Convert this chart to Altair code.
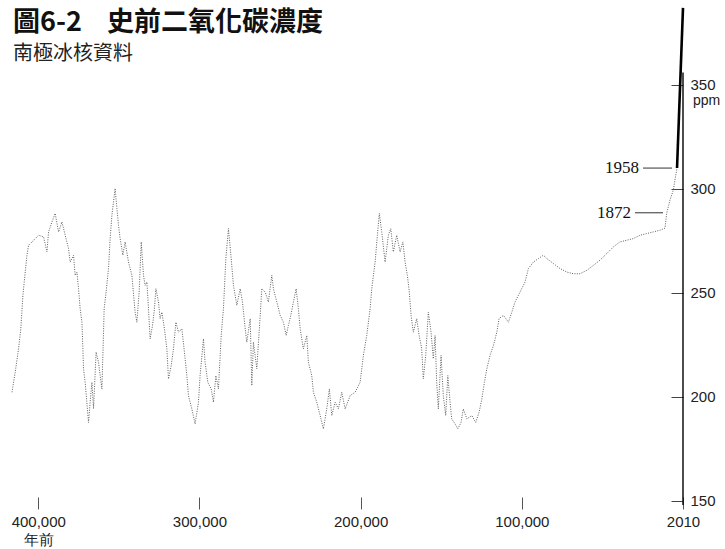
import altair as alt
import pandas as pd

# ---------------- text ----------------
title_main = "圖6-2"
title_rest = "史前二氧化碳濃度"
subtitle = "南極冰核資料"

# ---------------- data (thousand years before 2010, ppm) ----------------
ice_kya = [
    416.3, 414.3, 412.2, 410.8, 409.5, 408.7, 407.0, 406.0, 402.9, 399.8,
    396.7, 394.6, 393.6, 391.5, 389.5, 387.4, 385.3, 383.3, 381.2, 380.2,
    378.1, 377.1, 376.0, 375.0, 374.0, 372.9, 372.3, 371.9, 370.9, 369.5,
    368.8, 367.8, 366.7, 365.7, 364.1, 362.6, 361.6, 360.5, 359.9, 359.1,
    357.9, 356.4, 355.4, 354.3, 352.3, 351.2, 350.2, 349.2, 347.5, 346.1,
    344.0, 341.9, 339.9, 338.8, 337.4, 336.1, 334.7, 333.7, 332.6, 331.6,
    330.6, 329.1, 327.9, 327.0, 325.4, 324.4, 323.3, 321.7, 320.2, 319.2,
    317.5, 316.1, 314.6, 313.0, 310.9, 309.3, 307.8, 306.8, 304.7, 302.7,
    300.6, 299.6, 297.5, 296.5, 294.8, 292.7, 291.3, 289.8, 288.2, 286.5,
    285.1, 283.6, 282.0, 280.3, 278.9, 276.8, 274.7, 273.3, 271.6, 270.6,
    268.5, 267.5, 266.5, 264.4, 262.3, 261.3, 259.2, 257.2, 255.1, 254.1,
    252.0, 249.9, 247.9, 246.2, 244.8, 243.3, 241.7, 240.0, 238.6, 237.5,
    235.5, 233.4, 232.4, 230.3, 229.3, 227.2, 225.1, 223.1, 221.0, 219.4,
    217.9, 215.8, 213.8, 211.7, 209.6, 206.5, 203.4, 200.3, 198.3, 196.2,
    194.1, 193.1, 191.0, 189.6, 188.4, 186.9, 184.8, 182.8, 181.3, 179.7,
    177.6, 175.5, 173.8, 172.4, 171.0, 169.9, 168.7, 167.3, 165.2, 163.7,
    162.1, 161.1, 159.6, 158.0, 156.3, 154.9, 153.8, 152.8, 151.8, 150.1,
    148.7, 147.2, 145.9, 144.5, 143.5, 141.4, 139.7, 137.7, 136.3, 134.1,
    131.0, 128.6, 126.5, 124.8, 123.2, 121.7, 119.7, 117.6, 115.5, 114.1,
    111.4, 108.3, 106.2, 104.2, 101.1, 98.0, 95.9, 92.8, 89.7, 86.6,
    84.5, 80.4, 76.3, 72.1, 68.0, 63.9, 59.7, 55.6, 51.5, 47.3,
    43.2, 39.1, 34.9, 30.8, 26.7, 22.5, 18.4, 14.3, 11.2, 10.1,
    8.1, 6.0, 5.0, 3.7,
]
ice_ppm = [
    202.2, 211.8, 223.2, 232.9, 248.8, 255.2, 268.1, 272.9, 275.3, 277.7,
    276.9, 269.7, 279.3, 284.1, 288.2, 279.3, 284.1, 277.7, 271.3, 264.8,
    268.1, 258.4, 260.0, 252.0, 242.4, 235.9, 223.1, 213.5, 207.0, 194.2,
    187.7, 197.4, 207.0, 194.3, 221.5, 216.6, 210.2, 203.8, 219.9, 242.4,
    250.4, 261.7, 276.1, 287.3, 300.2, 290.6, 282.5, 276.1, 268.1, 274.5,
    264.8, 258.4, 240.7, 235.9, 250.4, 274.5, 258.4, 253.6, 255.2, 242.4,
    227.9, 234.3, 242.4, 252.0, 245.6, 237.6, 240.7, 232.7, 223.1, 208.6,
    215.1, 223.1, 235.9, 231.1, 232.7, 221.5, 210.2, 200.6, 194.2, 187.0,
    197.4, 210.2, 227.9, 216.6, 207.0, 203.8, 197.4, 210.2, 203.8, 229.5,
    242.4, 266.5, 280.9, 266.5, 253.6, 244.0, 252.0, 245.6, 232.7, 226.3,
    237.6, 205.4, 226.3, 213.5, 239.2, 252.0, 250.4, 245.6, 258.4, 252.0,
    245.6, 239.2, 235.9, 229.5, 234.3, 239.2, 245.6, 252.0, 242.4, 232.7,
    223.1, 229.5, 216.6, 210.2, 202.2, 197.4, 191.0, 184.6, 194.2, 203.8,
    191.0, 197.4, 194.2, 202.2, 194.2, 200.6, 202.2, 207.0, 219.9, 229.5,
    242.4, 252.0, 264.8, 277.7, 288.2, 279.3, 264.8, 277.7, 280.9, 269.7,
    277.7, 269.7, 274.5, 264.8, 258.4, 251.2, 239.2, 231.1, 237.6, 229.5,
    223.1, 208.6, 219.9, 240.7, 231.1, 218.3, 229.5, 207.0, 194.2, 219.9,
    200.6, 191.0, 210.2, 197.4, 189.4, 187.0, 184.6, 187.7, 194.2, 189.4,
    191.0, 187.7, 192.6, 199.0, 207.0, 213.5, 219.9, 224.7, 231.1, 237.6,
    239.2, 235.9, 240.7, 245.6, 250.4, 255.2, 261.7, 264.8, 266.5, 268.1,
    266.5, 264.1, 261.7, 260.0, 259.2, 259.2, 260.8, 263.2, 265.7, 268.9,
    272.1, 274.5, 275.3, 276.1, 277.7, 278.5, 279.3, 280.1, 281.1, 288.3,
    294.6, 299.4, 304.2, 310.0,
]

# instrumental segment (drawn on the chart's stretched right end)
modern_kya = [3.7, 0.0]
modern_ppm = [310.0, 387.0]

# annotations
ann_text = ["1958", "1872"]
ann_ppm = [310.0, 288.5]
ann_from_kya = [24.8, 29.8]
ann_to_kya = [6.8, 12.4]

x_ticks = [400000, 300000, 200000, 100000, 0]
y_ticks = [150, 200, 250, 300, 350]
X_DOMAIN = [0, 420000]
Y_DOMAIN = [148, 386]
axis_ppm = [148, 356]

# ---------------- frames ----------------
ice = pd.DataFrame({"yrs": [k * 1000 for k in ice_kya], "ppm": ice_ppm})
modern = pd.DataFrame({"yrs": [k * 1000 for k in modern_kya], "ppm": modern_ppm})
ann = pd.DataFrame({
    "label": ann_text,
    "ppm": ann_ppm,
    "yrs": [k * 1000 for k in ann_from_kya],
    "x2": [k * 1000 for k in ann_to_kya],
})
axis_line = pd.DataFrame({"yrs": [0], "ppm": [axis_ppm[0]], "y2": [axis_ppm[1]]})
ppm_unit = pd.DataFrame({"yrs": [0], "ppm": [350], "t": ["ppm"]})
titles = pd.DataFrame({"t": [title_main]})
titles2 = pd.DataFrame({"t": [title_rest]})
subs = pd.DataFrame({"t": [subtitle]})

xscale = alt.Scale(domain=X_DOMAIN, reverse=True, nice=False, zero=False)
yscale = alt.Scale(domain=Y_DOMAIN, nice=False, zero=False)

LABEL_FONT = "Liberation Sans"
CJK = "Noto Sans CJK TC"

x_axis = alt.Axis(
    values=x_ticks, offset=-8, tickSize=12, domain=False, grid=False,
    labelPadding=5, labelFlush=False, labelFont=LABEL_FONT, labelFontSize=15,
    labelColor="#222", tickColor="#555", labelLineHeight=18, title=None,
    labelExpr="datum.value == 0 ? '2010' : (datum.value == 400000 ? ['400,000', '年前'] : format(datum.value, ','))",
)
y_axis = alt.Axis(
    orient="right", values=y_ticks, offset=-12, tickSize=12, domain=False,
    grid=False, labelPadding=7, labelFont=LABEL_FONT, labelFontSize=15,
    labelColor="#222", tickColor="#444", title=None,
)

X = alt.X("yrs:Q", scale=xscale, axis=x_axis)
Y = alt.Y("ppm:Q", scale=yscale, axis=y_axis)

ice_line = alt.Chart(ice).mark_line(
    color="#5e5e5e", strokeWidth=1, strokeDash=[1, 1.4]
).encode(x=X, y=Y)

modern_line = alt.Chart(modern).mark_line(color="black", strokeWidth=2.6).encode(
    x=X, y=Y
)

axis_rule = alt.Chart(axis_line).mark_rule(color="black", strokeWidth=1.4).encode(
    x=X, y=Y, y2="y2:Q"
)

ann_rules = alt.Chart(ann).mark_rule(color="#333", strokeWidth=1).encode(
    x=X, x2="x2:Q", y=Y
)
ann_labels = alt.Chart(ann).mark_text(
    align="right", baseline="middle", dx=-4, font="Liberation Serif",
    fontSize=17, color="#111",
).encode(x=X, y=Y, text="label:N")

unit = alt.Chart(ppm_unit).mark_text(
    align="left", baseline="top", dx=10, dy=9, font=LABEL_FONT, fontSize=14,
    color="#222",
).encode(x=X, y=Y, text="t:N")

t1 = alt.Chart(titles).mark_text(
    align="left", baseline="alphabetic", font=CJK, fontSize=27,
    fontWeight="bold", color="#111",
).encode(x=alt.value(7), y=alt.value(21), text="t:N")
t2 = alt.Chart(titles2).mark_text(
    align="left", baseline="alphabetic", font=CJK, fontSize=27,
    fontWeight="bold", color="#111",
).encode(x=alt.value(101), y=alt.value(21), text="t:N")
st = alt.Chart(subs).mark_text(
    align="left", baseline="alphabetic", font=CJK, fontSize=20, color="#222",
).encode(x=alt.value(7), y=alt.value(50), text="t:N")

chart = alt.layer(
    ice_line, axis_rule, modern_line, ann_rules, ann_labels, unit, t1, t2, st
).properties(
    width=677, height=495,
    padding={"left": 6, "top": 10, "right": 42, "bottom": 44},
    autosize=alt.AutoSizeParams(type="none"),
    background="white",
).configure_view(stroke=None)

chart.save("out.html", embed_options={"renderer": "svg", "actions": False})
